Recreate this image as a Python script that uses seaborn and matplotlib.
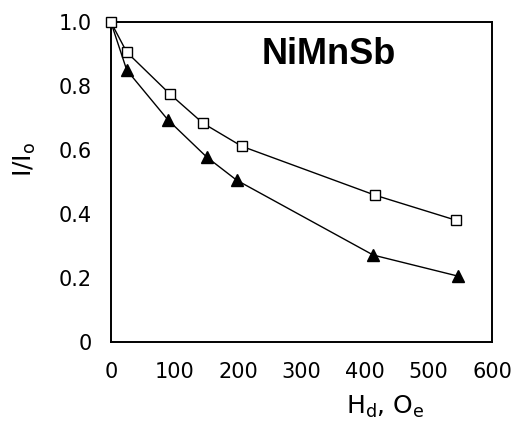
import matplotlib
matplotlib.use('Agg')
import matplotlib.pyplot as plt
import seaborn as sns

# data
field_sq = [0, 25, 93, 145, 206, 416, 543]
ratio_sq = [1.0, 0.906, 0.775, 0.684, 0.612, 0.459, 0.381]

field_tri = [0, 25, 90, 151, 198, 413, 547]
ratio_tri = [1.0, 0.85, 0.694, 0.578, 0.506, 0.272, 0.206]

x_ticks = [0, 100, 200, 300, 400, 500, 600]
y_ticks = [0, 0.2, 0.4, 0.6, 0.8, 1.0]
y_tick_labels = ['0', '0.2', '0.4', '0.6', '0.8', '1.0']

sns.set_style('white')
plt.rcParams['font.family'] = ['DejaVu Sans']
plt.rcParams['text.color'] = 'black'
plt.rcParams['axes.labelcolor'] = 'black'

fig = plt.figure(figsize=(5.18, 4.24), dpi=100)
ax = fig.add_axes([0.214, 0.193, 0.736, 0.755])

sns.lineplot(x=field_tri, y=ratio_tri, ax=ax, color='black', linewidth=1.0,
             marker='^', markersize=8, markerfacecolor='black',
             markeredgecolor='black', markeredgewidth=1.0,
             markevery=list(range(1, len(field_tri))))
sns.lineplot(x=field_sq, y=ratio_sq, ax=ax, color='black', linewidth=1.0,
             marker='s', markersize=6.5, markerfacecolor='white',
             markeredgecolor='black', markeredgewidth=1.0, clip_on=False,
             zorder=5)

ax.set_xlim(0, 600)
ax.set_ylim(0, 1.0)
ax.set_xticks(x_ticks)
ax.set_yticks(y_ticks)
ax.set_yticklabels(y_tick_labels)
ax.tick_params(direction='in', length=6, width=1.3, labelsize=15,
               colors='black')
ax.tick_params(axis='y', pad=14)
ax.tick_params(axis='x', pad=14)
for s in ax.spines.values():
    s.set_color('black')
    s.set_linewidth(1.4)

ax.text(238, 0.9, 'NiMnSb', fontsize=26, fontweight='bold',
        family='Liberation Sans', va='center', ha='left', color='black')

ax.set_xlabel('H$_\\mathrm{d}$, O$_\\mathrm{e}$', fontsize=18)
ax.xaxis.set_label_coords(0.72, -0.16)
ax.set_ylabel('I/I$_\\mathrm{o}$', fontsize=18)
ax.yaxis.set_label_coords(-0.19, 0.57)

plt.savefig('out.png', dpi=100)
